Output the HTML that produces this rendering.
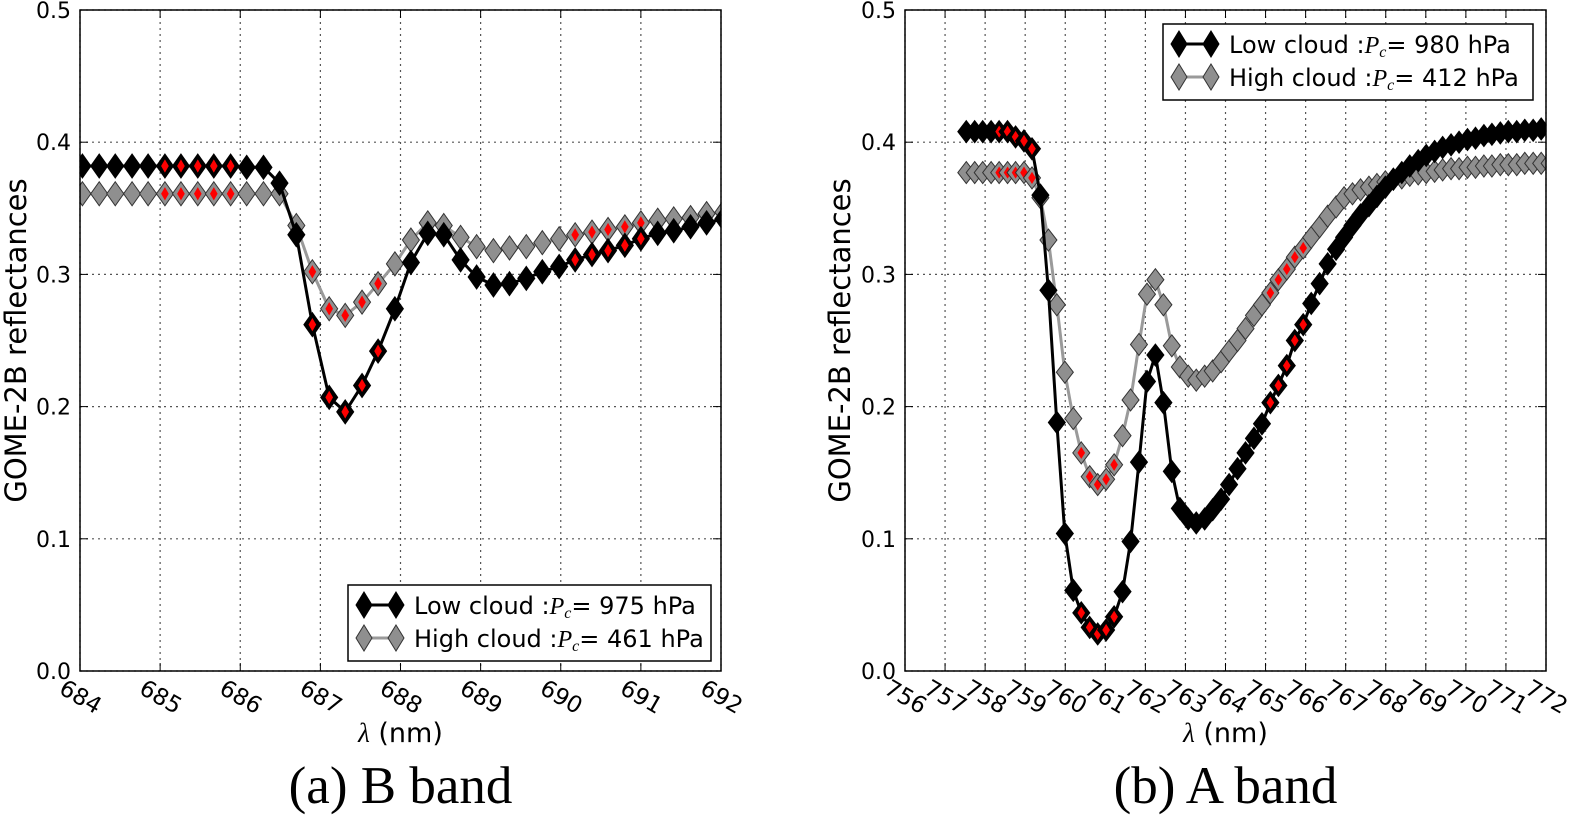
<!DOCTYPE html>
<html><head><meta charset="utf-8"><style>
body{margin:0;background:#fff}
svg{display:block;font-family:"DejaVu Sans","Liberation Sans",sans-serif}
</style></head><body>
<svg id="fig" width="1569" height="816" viewBox="0 0 1569 816" xmlns="http://www.w3.org/2000/svg"></svg>
<script>
// ---- Panel (a) B band data ----
const bWave = [684.03,684.24,684.44,684.65,684.85,685.06,685.26,685.47,685.67,685.88,686.08,686.29,686.49,686.70,686.90,687.11,687.31,687.52,687.72,687.93,688.13,688.34,688.54,688.75,688.95,689.16,689.36,689.57,689.77,689.98,690.18,690.39,690.59,690.80,691.00,691.21,691.41,691.62,691.82,692.03];
const bLow = [0.382,0.382,0.382,0.382,0.382,0.382,0.382,0.382,0.382,0.382,0.381,0.381,0.369,0.330,0.262,0.207,0.196,0.216,0.242,0.274,0.309,0.331,0.330,0.311,0.298,0.292,0.293,0.297,0.302,0.306,0.311,0.315,0.318,0.322,0.327,0.331,0.333,0.336,0.339,0.342];
const bHigh = [0.361,0.361,0.361,0.361,0.361,0.361,0.361,0.361,0.361,0.361,0.361,0.361,0.361,0.337,0.302,0.274,0.269,0.279,0.293,0.308,0.326,0.339,0.337,0.328,0.321,0.318,0.320,0.321,0.324,0.327,0.330,0.332,0.334,0.336,0.339,0.341,0.342,0.343,0.346,0.347];
const bRed = [5,6,7,8,9,14,15,16,17,18,30,31,32,33,34];
const bTicks = [684,685,686,687,688,689,690,691,692];
// ---- Panel (b) A band data ----
const aWave = [757.53,757.74,757.94,758.15,758.35,758.56,758.76,758.97,759.17,759.38,759.58,759.79,759.99,760.20,760.40,760.61,760.81,761.02,761.22,761.43,761.63,761.84,762.04,762.25,762.45,762.66,762.86,763.07,763.27,763.48,763.68,763.89,764.09,764.30,764.50,764.71,764.91,765.12,765.32,765.53,765.73,765.94,766.14,766.35,766.55,766.76,766.96,767.17,767.37,767.58,767.78,767.99,768.19,768.40,768.60,768.81,769.01,769.22,769.42,769.63,769.83,770.04,770.24,770.45,770.65,770.86,771.06,771.27,771.47,771.68,771.88,772.09];
const aLow = [0.408,0.408,0.408,0.408,0.408,0.408,0.404,0.401,0.395,0.360,0.288,0.188,0.104,0.061,0.044,0.033,0.028,0.031,0.041,0.060,0.098,0.158,0.219,0.239,0.203,0.151,0.123,0.115,0.112,0.115,0.122,0.130,0.141,0.153,0.165,0.176,0.187,0.203,0.216,0.231,0.250,0.262,0.278,0.293,0.308,0.319,0.328,0.337,0.345,0.352,0.359,0.366,0.372,0.377,0.382,0.386,0.390,0.393,0.396,0.398,0.400,0.402,0.403,0.405,0.406,0.407,0.408,0.408,0.409,0.409,0.410,0.410];
const aHigh = [0.377,0.377,0.377,0.377,0.377,0.377,0.377,0.377,0.373,0.358,0.326,0.277,0.226,0.191,0.165,0.147,0.141,0.145,0.156,0.178,0.205,0.247,0.285,0.296,0.277,0.246,0.230,0.223,0.220,0.223,0.227,0.234,0.242,0.250,0.259,0.269,0.277,0.286,0.296,0.304,0.313,0.320,0.328,0.336,0.344,0.351,0.358,0.361,0.364,0.366,0.368,0.370,0.372,0.373,0.375,0.376,0.377,0.378,0.379,0.380,0.380,0.381,0.381,0.382,0.382,0.383,0.383,0.383,0.384,0.384,0.384,0.384];
const aRed = [4,5,6,7,8,14,15,16,17,18,37,38,39,40,41];
const aTicks = [756,757,758,759,760,761,762,763,764,765,766,767,768,769,770,771,772];
const yTicks = [0.0,0.1,0.2,0.3,0.4,0.5];

const NS="http://www.w3.org/2000/svg";
const fig=document.getElementById('fig');
function mk(tag,attrs,parent){const e=document.createElementNS(NS,tag);for(const k in attrs)e.setAttribute(k,attrs[k]);(parent||fig).appendChild(e);return e;}
function diamond(cx,cy,hw,hh){return `${cx},${cy-hh} ${cx+hw},${cy} ${cx},${cy+hh} ${cx-hw},${cy}`;}

function panel(o){
  const g=mk('g',{});
  
  
  const X=v=>o.x0+(v-o.xmin)/(o.xmax-o.xmin)*(o.x1-o.x0);
  const Y=v=>o.y0-(v-0)/(0.5)*(o.y0-o.y1);
  o.xticks.forEach(t=>{
    const l=mk('line',{x1:X(t),x2:X(t),y1:o.y1,y2:o.y0,stroke:'#555','stroke-width':1.2,'stroke-dasharray':'2,4'},g);
    
    
    mk('line',{x1:X(t),x2:X(t),y1:o.y0,y2:o.y0-8,stroke:'#000','stroke-width':1},g);
    mk('line',{x1:X(t),x2:X(t),y1:o.y1,y2:o.y1+8,stroke:'#000','stroke-width':1},g);
    const tx=mk('text',{x:X(t),y:o.y0+27,'font-size':23,'text-anchor':'middle','dominant-baseline':'middle',transform:`rotate(30 ${X(t)} ${o.y0+27})`},g);
    tx.textContent=t;
    
    
  });
  yTicks.forEach(t=>{
    const l=mk('line',{x1:o.x0,x2:o.x1,y1:Y(t),y2:Y(t),stroke:'#555','stroke-width':1.2,'stroke-dasharray':'2,4'},g);
    
    
    mk('line',{x1:o.x0,x2:o.x0+8,y1:Y(t),y2:Y(t),stroke:'#000'},g);
    mk('line',{x1:o.x1,x2:o.x1-8,y1:Y(t),y2:Y(t),stroke:'#000'},g);
    const tx=mk('text',{x:o.x0-9,y:Y(t)+8,'font-size':22,'text-anchor':'end'},g);
    tx.textContent=t.toFixed(1);
    
    
  });
  const clip='clip-'+o.name;
  const cp=mk('clipPath',{id:clip},g);
  mk('rect',{x:o.x0,y:o.y1,width:o.x1-o.x0,height:o.y0-o.y1},cp);
  const series=[{v:o.high,line:'#9a9a9a',fill:'#8f8f8f',edge:'#333',name:'high-cloud-series'},{v:o.low,line:'#000',fill:'#000',edge:'#000',name:'low-cloud-series'}];
  series.forEach(s=>{
    const sg=mk('g',{'clip-path':`url(#${clip})`},g);
    
    
    const pts=o.wave.map((w,i)=>`${X(w).toFixed(1)},${Y(s.v[i]).toFixed(1)}`).join(' ');
    const pl=mk('polyline',{points:pts,fill:'none',stroke:s.line,'stroke-width':3},sg);
    
    
    o.wave.forEach((w,i)=>{
      const cx=X(w),cy=Y(s.v[i]);
      const p=mk('polygon',{points:diamond(cx,cy,o.hw,o.hh),fill:s.fill,stroke:s.edge,'stroke-width':1},sg);
      
      
      if(o.red.includes(i)){
        const r=mk('polygon',{points:diamond(cx,cy,o.hw*0.45,o.hh*0.55),fill:'#f00',stroke:'none'},sg);
        
        
      }
    });
  });
  const fr=mk('rect',{x:o.x0,y:o.y1,width:o.x1-o.x0,height:o.y0-o.y1,fill:'none',stroke:'#000','stroke-width':1.5},g);
  
  
  const yt=mk('text',{x:0,y:0,'font-size':29,'text-anchor':'middle',transform:`translate(${o.ytx} ${(o.y0+o.y1)/2}) rotate(-90)`},g);
  yt.textContent='GOME-2B reflectances';
  
  
  const xt=mk('text',{x:(o.x0+o.x1)/2,y:742,'font-size':27,'text-anchor':'middle'},g);
  xt.innerHTML='<tspan font-family="Liberation Serif, serif" font-style="italic">λ</tspan> (nm)';
  
  
  const cap=mk('text',{x:(o.x0+o.x1)/2,y:803,'font-size':53,'text-anchor':'middle','font-family':'Liberation Serif, serif'},g);
  cap.textContent=o.caption;
  
  
  const lg=mk('g',{},g);
  
  
  const L=o.leg;
  mk('rect',{x:L.x,y:L.y,width:L.w,height:76,fill:'#fff',stroke:'#000','stroke-width':1.5},lg);
  [[o.lowLabel,'#000','#000','#000'],[o.highLabel,'#9a9a9a','#8f8f8f','#333']].forEach((e,j)=>{
    const cy=L.y+20+j*33;
    const eg=mk('g',{},lg);
    
    
    mk('line',{x1:L.x+16,x2:L.x+48,y1:cy,y2:cy,stroke:e[1],'stroke-width':3},eg);
    mk('polygon',{points:diamond(L.x+16,cy,8,13),fill:e[2],stroke:e[3]},eg);
    mk('polygon',{points:diamond(L.x+48,cy,8,13),fill:e[2],stroke:e[3]},eg);
    const t=mk('text',{x:L.x+66,y:cy+9,'font-size':24},eg);
    t.innerHTML=e[0];
  });
}
const pc='<tspan font-family="Liberation Serif, serif" font-style="italic">P</tspan><tspan font-family="Liberation Serif, serif" font-style="italic" font-size="16" dy="4">c</tspan><tspan dy="-4">= ';
panel({name:'panel-b-band',x0:80,x1:721,y0:671,y1:10,xmin:684,xmax:692,xticks:bTicks,wave:bWave,low:bLow,high:bHigh,red:bRed,hw:8.5,hh:12,ytx:26,caption:'(a) B band',
  leg:{x:348,y:585,w:363},lowLabel:'Low cloud :'+pc+'975 hPa</tspan>',highLabel:'High cloud :'+pc+'461 hPa</tspan>'});
panel({name:'panel-a-band',x0:905,x1:1546,y0:671,y1:10,xmin:756,xmax:772,xticks:aTicks,wave:aWave,low:aLow,high:aHigh,red:aRed,hw:8.5,hh:11,ytx:850,caption:'(b) A band',
  leg:{x:1163,y:24,w:370},lowLabel:'Low cloud :'+pc+'980 hPa</tspan>',highLabel:'High cloud :'+pc+'412 hPa</tspan>'});
</script>
</body></html>
